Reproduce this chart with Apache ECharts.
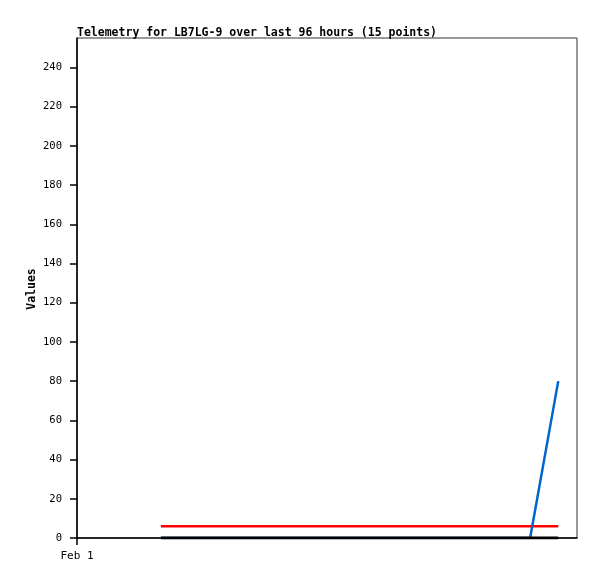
<!DOCTYPE html>
<html>
<head>
<meta charset="utf-8">
<script src="https://cdn.jsdelivr.net/npm/echarts@6/dist/echarts.min.js"></script>
<style>
  html, body { margin: 0; padding: 0; background: #fff; }
  #chart { width: 597px; height: 579px; }
</style>
</head>
<body>
<div id="chart"></div>
<script>
// hours since Feb 1 00:00 for each of the 15 points
var hours = [16.1, 21.6, 27.0, 32.5, 37.9, 43.4, 48.8, 54.3, 59.7, 65.2, 70.6, 76.1, 81.5, 87.0, 92.4];
var redValues = [6, 6, 6, 6, 6, 6, 6, 6, 6, 6, 6, 6, 6, 6, 6];
var blueValues = [0, 0, 0, 0, 0, 0, 0, 0, 0, 0, 0, 0, 0, 0, 80];
var blackValues = [0, 0, 0, 0, 0, 0, 0, 0, 0, 0, 0, 0, 0, 0, 0];
var xTickLabel = 'Feb 1';
var yName = 'Values';

function pairs(vals) {
  return vals.map(function (v, i) { return [hours[i], v]; });
}

var mono = '"DejaVu Sans Mono", "Liberation Mono", monospace';
var chart = echarts.init(document.getElementById('chart'));

chart.setOption({
  animation: false,
  backgroundColor: '#fff',
  title: {
    text: 'Telemetry for LB7LG-9 over last 96 hours (15 points)',
    left: 72,
    top: 22,
    textStyle: { fontFamily: mono, fontSize: 11.5, fontWeight: 'bold', color: '#000' }
  },
  // y axis name drawn by hand so it sits where the original puts it
  graphic: [{
    type: 'text',
    x: 32,
    y: 289,
    rotation: Math.PI / 2,
    style: {
      text: yName,
      font: 'bold 11.5px ' + mono,
      fill: '#000',
      align: 'center',
      verticalAlign: 'middle'
    }
  }],
  grid: {
    show: true,
    left: 77,
    right: 20,
    top: 38,
    bottom: 41,
    borderColor: '#333',
    borderWidth: 1
  },
  xAxis: {
    type: 'value',
    min: 0,
    max: 96,
    interval: 96,
    axisLine: { lineStyle: { color: '#000', width: 1.5 } },
    axisTick: { length: 7, lineStyle: { color: '#000', width: 1.5 } },
    splitLine: { show: false },
    axisLabel: {
      showMaxLabel: false,
      margin: 13,
      fontFamily: mono,
      fontSize: 11,
      color: '#000',
      formatter: function (v) { return v === 0 ? xTickLabel : ''; }
    }
  },
  yAxis: {
    type: 'value',
    min: 0,
    max: 255,
    interval: 20,
    axisLine: { show: true, lineStyle: { color: '#000', width: 1.5 } },
    axisTick: { show: true, length: 7, lineStyle: { color: '#000', width: 1.5 } },
    splitLine: { show: false },
    axisLabel: {
      showMaxLabel: false,
      margin: 15,
      fontFamily: mono,
      fontSize: 10.5,
      color: '#000'
    }
  },
  series: [
    {
      type: 'line',
      data: pairs(redValues),
      symbol: 'none',
      lineStyle: { color: '#ff0000', width: 2.5 },
      itemStyle: { color: '#ff0000' }
    },
    {
      type: 'line',
      data: pairs(blueValues),
      symbol: 'none',
      lineStyle: { color: '#0066cc', width: 2.5 },
      itemStyle: { color: '#0066cc' }
    },
    {
      type: 'line',
      data: pairs(blackValues),
      symbol: 'none',
      lineStyle: { color: '#000', width: 3 },
      itemStyle: { color: '#000' }
    }
  ]
});
</script>
</body>
</html>
